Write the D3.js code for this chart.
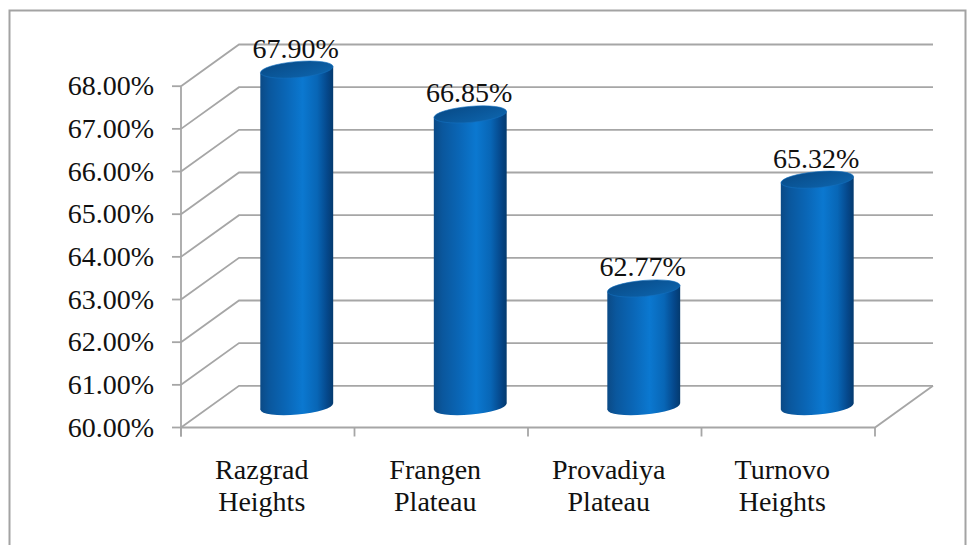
<!DOCTYPE html>
<html>
<head>
<meta charset="utf-8">
<script src="https://cdn.jsdelivr.net/npm/d3@7"></script>
<style>
  svg text { font-family: "Liberation Serif", "Times New Roman", Times, serif !important; }
</style>
</head>
<body style="margin:0">
<svg id="chart" width="974" height="545" font-family="Liberation Serif"></svg>
<script>
// Share of area by region (percent)
const categories = [["Razgrad", "Heights"], ["Frangen", "Plateau"], ["Provadiya", "Plateau"], ["Turnovo", "Heights"]];
const values = [67.90, 66.85, 62.77, 65.32];
const tickValues = [60, 61, 62, 63, 64, 65, 66, 67, 68];

const svg = d3.select("#chart");
const defs = svg.append("defs");

// Plot frame (front face of the 3D box) and depth offset
const plotLeft = 181, plotRight = 875, plotBottom = 427.5, plotTop = 86.2;
const depthX = 58, depthY = -41.7;

const x = d3.scaleBand().domain(d3.range(categories.length)).range([plotLeft, plotRight]).padding(0);
const y = d3.scaleLinear().domain([60, 68]).range([plotBottom, plotTop]);
const fmt = v => d3.format(".2f")(v) + "%";

// Outer border
svg.append("rect")
  .attr("x", 9.5).attr("y", 10.5).attr("width", 956).attr("height", 560)
  .attr("fill", "none").attr("stroke", "#a3a3a3").attr("stroke-width", 2);

const grid = svg.append("g").attr("stroke", "#a6a6a6").attr("stroke-width", 1.8).attr("fill", "none");

// Back-wall gridlines with their side-wall diagonals
tickValues.forEach(v => {
  const yf = y(v), yb = y(v) + depthY;
  grid.append("path")
    .attr("d", `M${plotLeft},${yf} L${plotLeft + depthX},${yb} L${plotRight + depthX},${yb}`);
});
// Floor front edge and right edge
grid.append("path")
  .attr("d", `M${plotLeft},${plotBottom} L${plotRight},${plotBottom} L${plotRight + depthX},${plotBottom + depthY}`);
// Vertical axis line
grid.append("line").attr("x1", plotLeft).attr("x2", plotLeft).attr("y1", plotTop).attr("y2", plotBottom + 9);
// Value ticks
tickValues.forEach(v => {
  grid.append("line").attr("x1", plotLeft - 9).attr("x2", plotLeft).attr("y1", y(v)).attr("y2", y(v));
});
// Category ticks
d3.range(categories.length + 1).forEach(i => {
  const xx = i < categories.length ? x(i) : plotRight;
  grid.append("line").attr("x1", xx).attr("x2", xx).attr("y1", plotBottom).attr("y2", plotBottom + 9);
});

// Value axis labels
tickValues.forEach(v => {
  svg.append("text")
    .attr("x", 154).attr("y", y(v) + 9)
    .attr("font-size", 28)
    .attr("font-family", "Times New Roman")
    .attr("fill", "#111")
    .attr("text-anchor", "end")
    .text(fmt(v));
});

// Cylinders
const bw = x.bandwidth() * 0.42;
const rx = bw / 2, ry = 8, tilt = -5;
const tiltDy = rx * Math.sin(-tilt * Math.PI / 180);

values.forEach((v, i) => {
  const cx = x(i) + x.bandwidth() / 2 + depthX / 2;
  const yTop = y(v) + depthY / 2;
  const yBot = y(60) + depthY / 2;

  const body = defs.append("linearGradient")
    .attr("id", "body" + i).attr("gradientUnits", "userSpaceOnUse")
    .attr("x1", cx - rx).attr("x2", cx + rx).attr("y1", 0).attr("y2", 0);
  [[0, "#0b4a86"], [0.12, "#0a579d"], [0.35, "#0a66b6"], [0.58, "#0b78d0"], [0.78, "#0866b6"], [0.92, "#05478a"], [1, "#043a6e"]]
    .forEach(([o, c]) => body.append("stop").attr("offset", o).attr("stop-color", c));

  const cap = defs.append("linearGradient")
    .attr("id", "cap" + i).attr("x1", 0).attr("y1", 0).attr("x2", 1).attr("y2", 1);
  [[0, "#084a86"], [0.6, "#0b5a9e"], [1, "#0e66ae"]]
    .forEach(([o, c]) => cap.append("stop").attr("offset", o).attr("stop-color", c));

  // bottom cap
  svg.append("ellipse")
    .attr("cx", cx).attr("cy", yBot).attr("rx", rx).attr("ry", ry)
    .attr("transform", `rotate(${tilt},${cx},${yBot})`)
    .attr("fill", `url(#body${i})`);
  // side
  svg.append("path")
    .attr("d", `M${cx - rx},${yTop + tiltDy} L${cx + rx},${yTop - tiltDy} L${cx + rx},${yBot - tiltDy} L${cx - rx},${yBot + tiltDy} Z`)
    .attr("fill", `url(#body${i})`);
  // top cap
  svg.append("ellipse")
    .attr("cx", cx).attr("cy", yTop).attr("rx", rx).attr("ry", ry)
    .attr("transform", `rotate(${tilt},${cx},${yTop})`)
    .attr("fill", `url(#cap${i})`)
    .attr("stroke", "#1470bf").attr("stroke-width", 0.6);

  // value label
  svg.append("text")
    .attr("x", cx - 1).attr("y", yTop - 12)
    .attr("font-size", 28)
    .attr("font-family", "Times New Roman")
    .attr("fill", "#111")
    .attr("text-anchor", "middle")
    .text(fmt(v));
});

// Category labels
categories.forEach((d, i) => {
  const cxl = x(i) + x.bandwidth() / 2 - 6;
  d.forEach((line, k) => {
    svg.append("text")
      .attr("x", cxl).attr("y", 479 + k * 31.5)
      .attr("font-size", 28)
      .attr("font-family", "Times New Roman")
      .attr("fill", "#111")
      .attr("text-anchor", "middle")
      .text(line);
  });
});
</script>
</body>
</html>
